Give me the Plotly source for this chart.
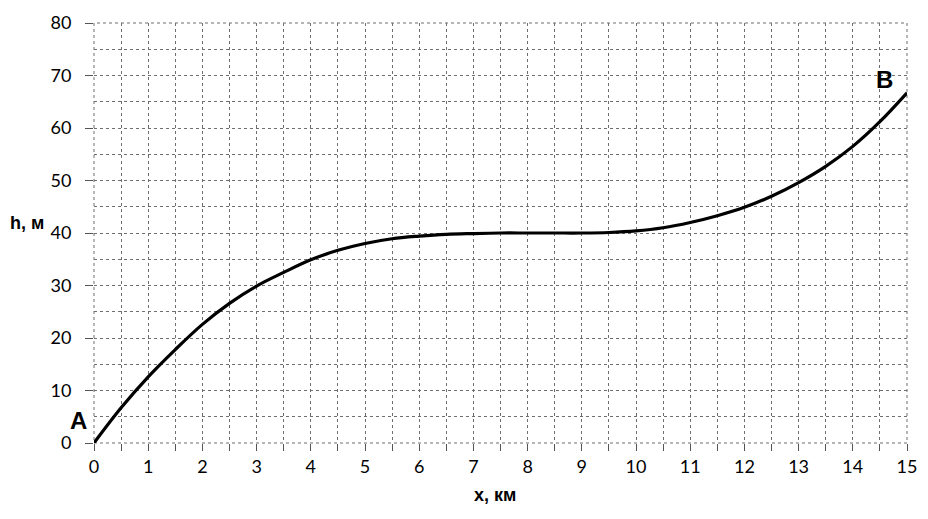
import plotly.graph_objects as go

x_km = [0, 0.5, 1, 1.5, 2, 2.5, 3, 3.5, 4, 4.5, 5, 5.5, 6, 6.5, 7, 7.5, 8, 8.5, 9, 9.5,
        10, 10.5, 11, 11.5, 12, 12.5, 13, 13.5, 14, 14.5, 15]
h_m = [0, 6.7, 12.6, 17.8, 22.6, 26.6, 29.9, 32.5, 34.9, 36.7, 38.0, 38.9, 39.4, 39.75, 39.9, 40.0,
       40.0, 40.0, 40.0, 40.1, 40.4, 41.0, 42.0, 43.3, 44.9, 47.0, 49.6, 52.7, 56.5, 61.2, 66.7]
x_ticks = list(range(0, 16))
y_ticks = list(range(0, 81, 10))

fig = go.Figure()
fig.add_trace(go.Scatter(x=x_km, y=h_m, mode="lines",
                         line=dict(color="black", width=3.2, shape="spline", smoothing=1.0),
                         hoverinfo="skip", showlegend=False))

grid = "#6e6e6e"
tickfont = dict(family="Lato, Open Sans, sans-serif", size=18, color="black")

fig.update_xaxes(range=[0, 15], tickvals=x_ticks, ticktext=[str(v) for v in x_ticks],
                 showgrid=True, gridcolor=grid, griddash="dot", gridwidth=1,
                 zeroline=False, showline=False, ticklabeloverflow="allow",
                 ticks="outside", ticklen=7, tickcolor="#555", tickwidth=1,
                 tickfont=tickfont,
                 minor=dict(dtick=0.5, tick0=0, showgrid=True, gridcolor=grid, griddash="dot",
                            gridwidth=1, ticks="outside", ticklen=7, tickcolor="#555"))
fig.update_yaxes(range=[0, 80], tickvals=y_ticks, ticktext=[str(v) for v in y_ticks],
                 showgrid=True, gridcolor=grid, griddash="dot", gridwidth=1,
                 zeroline=False, showline=False, ticklabeloverflow="allow",
                 ticks="outside", ticklen=8, tickcolor="#555", tickwidth=1,
                 tickfont=tickfont, ticklabelstandoff=10,
                 minor=dict(dtick=5, tick0=0, showgrid=True, gridcolor=grid, griddash="dot",
                            gridwidth=1, ticks=""))

# dotted frame around the plotting area (edge grid lines)
fig.add_shape(type="rect", xref="paper", yref="paper", x0=0, y0=0, x1=1, y1=1,
              line=dict(color=grid, width=1, dash="dot"), layer="below")

fig.add_annotation(x=0, y=0, xref="x", yref="y", text="<b>A</b>", showarrow=False,
                   xanchor="right", yanchor="bottom", xshift=-5, yshift=7,
                   font=dict(family="Liberation Sans, Arial", size=24, color="black"))
fig.add_annotation(x=15, y=66.7, xref="x", yref="y", text="<b>B</b>", showarrow=False,
                   xanchor="right", yanchor="bottom", xshift=-12, yshift=-2,
                   font=dict(family="Liberation Sans, Arial", size=24, color="black"))
fig.add_annotation(x=0, y=42, xref="paper", yref="y", text="<b>h, м</b>", showarrow=False,
                   xanchor="left", yanchor="middle", xshift=-86,
                   font=dict(family="Liberation Sans, Arial", size=18, color="black"))
fig.add_annotation(x=0.493, y=0, xref="paper", yref="paper", text="<b>x, км</b>", showarrow=False,
                   xanchor="center", yanchor="middle", yshift=-52,
                   font=dict(family="Liberation Sans, Arial", size=18, color="black"))

fig.update_layout(width=928, height=519, margin=dict(l=94, r=21, t=11, b=76),
                  paper_bgcolor="white", plot_bgcolor="white")
fig.write_html("out.html", config={"displayModeBar": False},
               post_script="document.body.style.margin='0';document.body.style.overflow='hidden';")
